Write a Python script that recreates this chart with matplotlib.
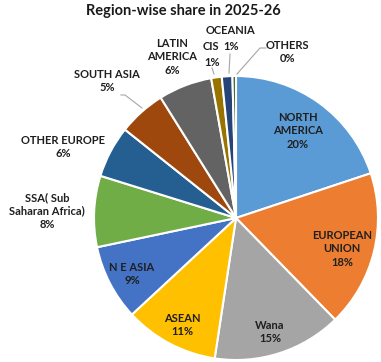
import matplotlib.pyplot as plt

# region-wise share (labels are the rounded values)
regions = ['NORTH\nAMERICA', 'EUROPEAN\nUNION', 'Wana', 'ASEAN', 'N E ASIA',
           'SSA( Sub\nSaharan Africa)', 'OTHER EUROPE', 'SOUTH ASIA',
           'LATIN\nAMERICA', 'CIS', 'OCEANIA', 'OTHERS']
shares = [19.9, 17.8, 14.7, 10.7, 8.6, 8.1, 5.9, 5.4, 6.1, 1.2, 1.2, 0.4]
shown = ['20%', '18%', '15%', '11%', '9%', '8%', '6%', '5%', '6%', '1%', '1%', '0%']
colors = ['#5B9BD5', '#ED7D31', '#A5A5A5', '#FFC000', '#4472C4', '#70AD47',
          '#255E91', '#9E480E', '#636363', '#997300', '#264478', '#43682B']

W, H = 381, 362
fig = plt.figure(figsize=(W / 100, H / 100), dpi=100)
ax = fig.add_axes([0, 0, 1, 1])

ax.pie(shares, colors=colors, startangle=90, counterclock=False,
       center=(236, H - 218), radius=142,
       wedgeprops=dict(edgecolor='white', linewidth=1.5))
ax.set_xlim(0, W)
ax.set_ylim(0, H)
ax.set_aspect('equal')
ax.axis('off')

# label anchor points in pixel space (x, y from top)
label_pos = [(298, 131), (342, 249), (270, 332), (182, 325), (132, 274),
             (47, 211), (63, 147), (107, 81), (172, 57), (211, 55),
             (230, 39), (287, 52)]

txt = dict(ha='center', va='center', fontsize=8, fontweight='bold',
           family='Lato', color='#1f1f1f', linespacing=1.25)
for name, pct, (px, py) in zip(regions, shown, label_pos):
    if name in ('CIS', 'OCEANIA'):
        # small labels stacked tightly: draw each line separately
        ax.text(px, H - (py - 8), name, **txt)
        ax.text(px + 1, H - (py + 7.5), pct, **txt)
    else:
        ax.text(px, H - py, name + '\n' + pct, **txt)

# leader lines
lc = dict(color='#A6A6A6', linewidth=0.8)
ax.plot([121, 125, 142], [H - 95, H - 95, H - 108], **lc)
ax.plot([212, 214], [H - 68, H - 74], **lc)
ax.plot([230, 229], [H - 54, H - 73], **lc)
ax.plot([266, 260, 237], [H - 48, H - 48, H - 74], **lc)

fig.text(183 / W, 1 - 11 / H, 'Region-wise share in 2025-26', ha='center',
         va='center', fontsize=10.5, fontweight='bold', family='Lato',
         color='#1a1a1a')

fig.savefig('out.png', dpi=100)
